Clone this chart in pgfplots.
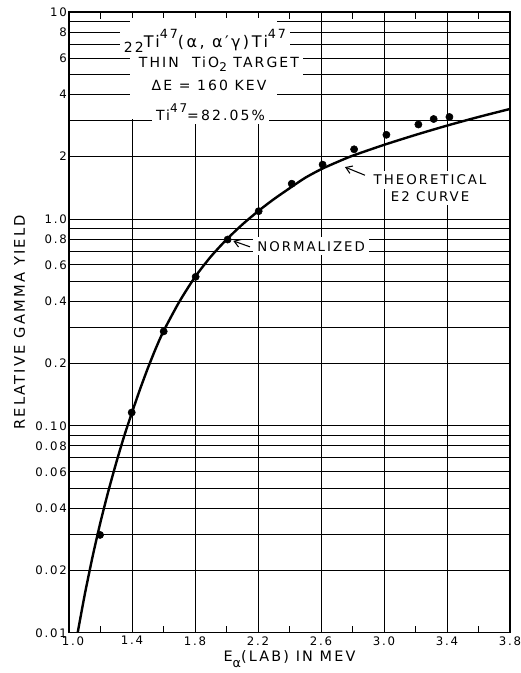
\documentclass[border=0pt]{standalone}
\usepackage{fontspec}
\setmainfont{DejaVu Sans}[LetterSpace=15]
\usepackage{pgfplots}
\usepackage{pgfplotstable}
\pgfplotsset{compat=1.18}
\usetikzlibrary{arrows.meta}

\pgfplotstableread{
x y
1.055 0.0100
1.100 0.0153
1.150 0.0234
1.200 0.0343
1.250 0.0484
1.300 0.0664
1.350 0.0891
1.400 0.1160
1.450 0.1496
1.500 0.1895
1.550 0.2358
1.600 0.2868
1.700 0.3975
1.800 0.5240
1.900 0.6570
2.000 0.7950
2.100 0.9390
2.200 1.0890
2.300 1.2450
2.400 1.4060
2.500 1.5810
2.600 1.7380
2.700 1.8790
2.800 2.0200
3.000 2.2800
3.200 2.5470
3.400 2.8250
3.600 3.1100
3.800 3.4000
}\curve

\pgfplotstableread{
x y
1.197 0.0297
1.398 0.116
1.601 0.286
1.804 0.525
2.007 0.795
2.204 1.09
2.414 1.48
2.610 1.83
2.810 2.17
3.015 2.55
3.218 2.86
3.315 3.04
3.415 3.11
}\points

\begin{document}
\begin{tikzpicture}
\begin{axis}[
  name=ax,
  scale only axis, width=330.75pt, height=465.5pt,
  ymode=log, xmin=1.0, xmax=3.8, ymin=0.01, ymax=10,
  axis line style={line width=1.1pt},
  xtick={1.0,1.4,1.8,2.2,2.6,3.0,3.4,3.8},
  xticklabels={\hspace*{6pt}1.0,1.4,1.8,2.2,2.6,3.0,3.4,3.8},
  minor xtick={1.2,1.6,2.0,2.4,2.8,3.2,3.6},
  ytick={0.01,0.02,0.04,0.06,0.08,0.1,0.2,0.4,0.6,0.8,1,2,4,6,8,10},
  yticklabels={0.01,0.02,0.04,0.06,0.08,0.10,0.2,0.4,0.6,0.8,1.0,2,4,6,8,10},
  minor ytick={0.03,0.05,0.07,0.09,0.3,0.5,0.7,0.9,3,5,7,9},
  xmajorgrids, ymajorgrids, yminorgrids,
  major grid style={black, line width=0.6pt},
  minor grid style={black, line width=0.6pt},
  major tick length=0pt, minor tick length=5pt,
  every tick/.style={black, line width=0.6pt},
  tick label style={font=\fontsize{8.8}{10}\selectfont, inner sep=1.5pt},
  xticklabel style={yshift=-1pt},
  xlabel={E\raisebox{-0.7ex}{\fontsize{9.5}{10}\selectfont α}(LAB)\ IN\ MEV},
  ylabel={RELATIVE\ GAMMA\ YIELD},
  every axis x label/.style={at={(axis description cs:0.5,-0.0467)}, anchor=base, font=\fontsize{10.8}{12}\selectfont},
  every axis y label/.style={at={(axis description cs:-0.112,0.5)}, anchor=center, rotate=90, font=\fontsize{11}{13}\selectfont},
]
\fill[white] (axis cs:1.385,3.05) rectangle (axis cs:2.32,9.35);
\addplot[black, line width=1.8pt, smooth, tension=0.4] table[x=x,y=y] {\curve};
\addplot[only marks, mark=*, mark size=2.7pt, black] table[x=x,y=y] {\points};

\node[fill=white, anchor=base, inner sep=3pt, font=\fontsize{12}{14}\selectfont] at (axis cs:1.863,6.73)
  {\raisebox{-0.55ex}{\fontsize{10.5}{12}\selectfont 22}Ti\raisebox{1.05ex}{\fontsize{9.5}{10}\selectfont 47}(α, α′γ)\,Ti\raisebox{1.05ex}{\fontsize{9.5}{10}\selectfont 47}};
\node[fill=white, anchor=base, inner sep=3pt, font=\fontsize{10.5}{12}\selectfont] at (axis cs:1.952,5.39)
  {THIN\ \ TiO\raisebox{-0.5ex}{\fontsize{9}{10}\selectfont 2}\ TARGET};
\node[fill=white, anchor=base, inner sep=3pt, font=\fontsize{10.5}{12}\selectfont] at (axis cs:1.889,4.18)
  {ΔE = 160 KEV};
\node[fill=white, anchor=base, inner sep=3pt, font=\fontsize{10.5}{12}\selectfont] at (axis cs:1.898,3.0)
  {Ti\raisebox{1.05ex}{\fontsize{9}{10}\selectfont 47}=82.05\%};

\node[fill=white, anchor=base, inner sep=3pt, font=\fontsize{10}{12}\selectfont] at (axis cs:3.292,1.466) {THEORETICAL};
\node[fill=white, anchor=base, inner sep=3pt, font=\fontsize{10}{12}\selectfont] at (axis cs:3.292,1.218) {E2 CURVE};
\draw[line width=0.8pt, -{Straight Barb[length=4.5pt,width=6pt]}] (axis cs:2.879,1.626) -- (axis cs:2.752,1.78);

\node[fill=white, anchor=base, inner sep=3pt, font=\fontsize{10}{12}\selectfont] at (axis cs:2.537,0.698) {NORMALIZED};
\draw[line width=0.8pt, -{Straight Barb[length=4.5pt,width=6pt]}] (axis cs:2.149,0.733) -- (axis cs:2.043,0.783);
\end{axis}
\pgfresetboundingbox
\path ([shift={(-51.75pt,-30.2pt)}]ax.south west) rectangle ([shift={(7.5pt,9pt)}]ax.north east);
\end{tikzpicture}
\end{document}
